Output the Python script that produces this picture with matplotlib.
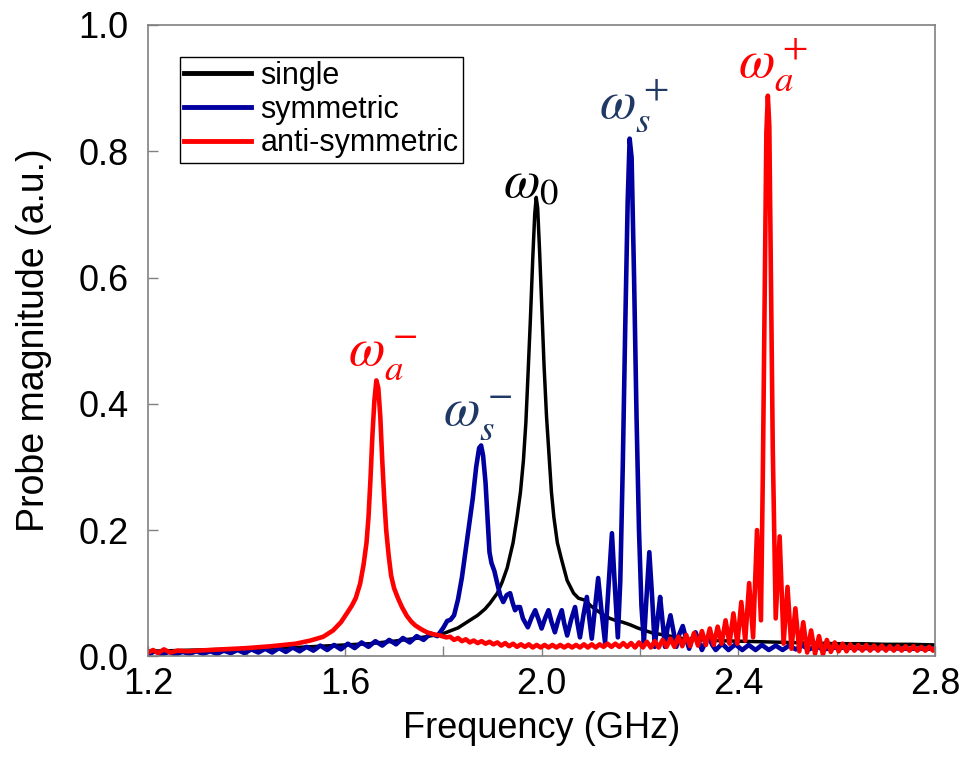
import matplotlib.pyplot as plt
from matplotlib.ticker import MultipleLocator

plt.rcParams['font.family'] = ['Liberation Sans', 'DejaVu Sans']
plt.rcParams['mathtext.fontset'] = 'stix'

# single resonator
single_freq = [1.20, 1.25, 1.30, 1.35, 1.40, 1.45, 1.50, 1.55, 1.60, 1.65, 1.70, 1.75,
               1.80, 1.83, 1.85, 1.87, 1.885, 1.895, 1.91, 1.92, 1.93, 1.942, 1.95,
               1.957, 1.963, 1.968, 1.972, 1.977, 1.982, 1.986, 1.989, 1.992, 1.996,
               2.000, 2.005, 2.010, 2.015, 2.020, 2.025, 2.032, 2.040, 2.052, 2.065,
               2.075, 2.088, 2.100, 2.112, 2.125, 2.139, 2.150, 2.165, 2.180, 2.195,
               2.210, 2.225, 2.240, 2.255, 2.280, 2.300, 2.350, 2.400, 2.450, 2.500,
               2.550, 2.600, 2.650, 2.700, 2.750, 2.800]
single_mag = [0.008, 0.009, 0.010, 0.011, 0.012, 0.013, 0.014, 0.016, 0.018, 0.020, 0.024, 0.029,
              0.036, 0.045, 0.055, 0.065, 0.075, 0.084, 0.100, 0.118, 0.140, 0.180, 0.220,
              0.260, 0.310, 0.370, 0.440, 0.530, 0.630, 0.700, 0.727, 0.710, 0.640,
              0.560, 0.460, 0.380, 0.320, 0.260, 0.220, 0.180, 0.155, 0.120, 0.100,
              0.092, 0.089, 0.080, 0.073, 0.066, 0.060, 0.057, 0.054, 0.050, 0.045,
              0.041, 0.037, 0.035, 0.033, 0.029, 0.027, 0.025, 0.024, 0.023, 0.022,
              0.021, 0.020, 0.020, 0.019, 0.019, 0.018]

# symmetric coupling
sym_freq = [1.200, 1.214, 1.228, 1.242, 1.256, 1.270, 1.284, 1.298, 1.312, 1.326, 1.340,
            1.354, 1.368, 1.382, 1.396, 1.410, 1.424, 1.438, 1.452, 1.466, 1.480, 1.494,
            1.508, 1.522, 1.536, 1.550, 1.564, 1.578, 1.592, 1.606, 1.620, 1.634, 1.648,
            1.662, 1.676, 1.690, 1.704, 1.718, 1.732, 1.746, 1.760, 1.774, 1.788,
            1.800, 1.808, 1.815, 1.822, 1.830, 1.838, 1.845, 1.852, 1.860, 1.867, 1.873,
            1.877, 1.881, 1.886, 1.890, 1.894, 1.898, 1.904, 1.910, 1.916, 1.922, 1.929,
            1.936, 1.941, 1.946, 1.951, 1.956, 1.962, 1.972, 1.980, 1.987, 1.994, 2.000,
            2.007, 2.014, 2.020, 2.027, 2.034, 2.041, 2.046, 2.052, 2.060, 2.068, 2.073,
            2.078, 2.085, 2.092, 2.097, 2.102, 2.109, 2.115, 2.122, 2.129, 2.136, 2.143,
            2.149, 2.155, 2.160, 2.165, 2.170, 2.175, 2.179, 2.183, 2.188, 2.193, 2.198,
            2.203, 2.208, 2.213, 2.219, 2.225, 2.230, 2.236, 2.241, 2.246, 2.251, 2.256,
            2.262, 2.268, 2.274, 2.280, 2.287, 2.293, 2.300, 2.306, 2.313, 2.319, 2.326,
            2.333, 2.340, 2.347, 2.354, 2.367, 2.380, 2.394, 2.408, 2.421, 2.435, 2.448,
            2.462, 2.476, 2.490, 2.503, 2.517, 2.530, 2.544, 2.558, 2.572, 2.600, 2.650,
            2.700, 2.750, 2.800]
sym_mag = [0.003, 0.008, 0.003, 0.007, 0.003, 0.007, 0.004, 0.008, 0.004, 0.008, 0.004,
           0.009, 0.005, 0.010, 0.005, 0.011, 0.006, 0.012, 0.006, 0.013, 0.007, 0.014,
           0.008, 0.015, 0.009, 0.017, 0.010, 0.018, 0.011, 0.020, 0.013, 0.022, 0.015,
           0.024, 0.017, 0.026, 0.019, 0.029, 0.022, 0.032, 0.026, 0.036, 0.032,
           0.045, 0.056, 0.058, 0.065, 0.090, 0.125, 0.165, 0.205, 0.250, 0.300, 0.330,
           0.334, 0.318, 0.275, 0.220, 0.165, 0.148, 0.135, 0.115, 0.096, 0.086, 0.097,
           0.100, 0.085, 0.073, 0.078, 0.078, 0.060, 0.046, 0.062, 0.073, 0.058, 0.044,
           0.060, 0.073, 0.055, 0.038, 0.058, 0.073, 0.052, 0.033, 0.058, 0.078, 0.052,
           0.030, 0.065, 0.094, 0.060, 0.028, 0.080, 0.124, 0.070, 0.022, 0.110, 0.195,
           0.110, 0.030, 0.120, 0.300, 0.520, 0.720, 0.820, 0.790, 0.600, 0.380, 0.200,
           0.080, 0.022, 0.090, 0.165, 0.090, 0.015, 0.060, 0.094, 0.055, 0.015, 0.045,
           0.065, 0.040, 0.015, 0.035, 0.048, 0.030, 0.012, 0.028, 0.038, 0.025, 0.010,
           0.022, 0.030, 0.018, 0.010, 0.020, 0.010, 0.019, 0.010, 0.018, 0.010, 0.018,
           0.010, 0.017, 0.010, 0.017, 0.011, 0.017, 0.011, 0.016, 0.011, 0.014, 0.013,
           0.013, 0.012, 0.012]

# anti-symmetric coupling
anti_freq = [1.200, 1.210, 1.220, 1.232, 1.245, 1.260, 1.280, 1.300, 1.350, 1.400, 1.450,
             1.500, 1.530, 1.556, 1.576, 1.592, 1.604, 1.614, 1.622, 1.631, 1.638, 1.644,
             1.648, 1.652, 1.656, 1.660, 1.664, 1.668, 1.672, 1.676, 1.680, 1.684, 1.689,
             1.694, 1.700, 1.708, 1.716, 1.726, 1.735, 1.743, 1.755, 1.767, 1.780, 1.793,
             1.806, 1.814, 1.822, 1.830, 1.838, 1.846, 1.854, 1.862, 1.870, 1.878, 1.886,
             1.894, 1.902, 1.910, 1.918, 1.926, 1.934, 1.942, 1.950, 1.958, 1.966, 1.974,
             1.982, 1.990, 1.998, 2.006, 2.014, 2.022, 2.030, 2.038, 2.046, 2.054, 2.062,
             2.070, 2.078, 2.086, 2.094, 2.102, 2.110, 2.118, 2.126, 2.134, 2.142, 2.150,
             2.158, 2.166, 2.174, 2.182, 2.190, 2.198, 2.206, 2.214, 2.222, 2.230, 2.238,
             2.246, 2.254, 2.262, 2.270, 2.278, 2.286, 2.294, 2.302, 2.310, 2.318, 2.326,
             2.334, 2.342, 2.350, 2.358, 2.366, 2.374, 2.382, 2.390, 2.398, 2.406, 2.414,
             2.422, 2.430, 2.438, 2.446, 2.450, 2.454, 2.457, 2.460, 2.463, 2.466, 2.470,
             2.476, 2.484, 2.492, 2.500, 2.508, 2.516, 2.524, 2.532, 2.540, 2.548, 2.556,
             2.564, 2.572, 2.580, 2.588, 2.596, 2.604, 2.612, 2.620, 2.628, 2.636, 2.644,
             2.652, 2.660, 2.668, 2.676, 2.684, 2.692, 2.700, 2.708, 2.716, 2.724, 2.732,
             2.740, 2.748, 2.756, 2.764, 2.772, 2.780, 2.788, 2.796, 2.800]
anti_mag = [0.006, 0.010, 0.005, 0.011, 0.006, 0.009, 0.008, 0.009, 0.011, 0.013, 0.016,
            0.020, 0.025, 0.031, 0.041, 0.054, 0.068, 0.080, 0.092, 0.115, 0.145, 0.180,
            0.220, 0.280, 0.350, 0.405, 0.437, 0.425, 0.380, 0.310, 0.250, 0.200, 0.160,
            0.128, 0.108, 0.092, 0.078, 0.064, 0.055, 0.049, 0.043, 0.038, 0.035, 0.033,
            0.030, 0.031, 0.026, 0.029, 0.024, 0.027, 0.022, 0.025, 0.021, 0.024, 0.020,
            0.023, 0.019, 0.022, 0.017, 0.021, 0.016, 0.020, 0.015, 0.019, 0.015, 0.019,
            0.014, 0.018, 0.014, 0.018, 0.014, 0.018, 0.014, 0.018, 0.014, 0.018, 0.014,
            0.018, 0.014, 0.019, 0.014, 0.019, 0.014, 0.019, 0.015, 0.020, 0.015, 0.020,
            0.015, 0.021, 0.015, 0.021, 0.014, 0.022, 0.014, 0.023, 0.014, 0.024, 0.014,
            0.026, 0.015, 0.028, 0.015, 0.031, 0.016, 0.034, 0.016, 0.037, 0.017, 0.040,
            0.018, 0.044, 0.018, 0.047, 0.020, 0.057, 0.020, 0.068, 0.020, 0.086, 0.025,
            0.116, 0.030, 0.200, 0.057, 0.300, 0.600, 0.830, 0.888, 0.840, 0.620, 0.330,
            0.060, 0.190, 0.020, 0.110, 0.012, 0.076, 0.008, 0.054, 0.006, 0.041, 0.004,
            0.032, 0.003, 0.026, 0.007, 0.022, 0.008, 0.020, 0.008, 0.019, 0.009, 0.018,
            0.009, 0.018, 0.009, 0.017, 0.009, 0.017, 0.009, 0.016, 0.009, 0.016, 0.009,
            0.016, 0.009, 0.016, 0.009, 0.015, 0.009, 0.015, 0.009, 0.012]

# mode labels: (text, freq, magnitude, colour)
mode_labels = [r'$\omega_0$', r'$\omega_s^+$', r'$\omega_s^-$', r'$\omega_a^+$', r'$\omega_a^-$']
mode_x = [1.922, 2.116, 1.800, 2.400, 1.607]
mode_y = [0.727, 0.853, 0.366, 0.918, 0.461]
mode_colors = ['black', '#1F3864', '#1F3864', '#FF0000', '#FF0000']

fig = plt.figure(figsize=(9.62, 7.57), dpi=100)
ax = fig.add_axes([0.154, 0.133, 0.818, 0.834])

ax.plot(single_freq, single_mag, color='black', lw=2.5, label='single')
ax.plot(sym_freq, sym_mag, color='#0000A0', lw=3.3, label='symmetric')
ax.plot(anti_freq, anti_mag, color='#FF0000', lw=3.3, label='anti-symmetric')

for txt, x, y, c in zip(mode_labels, mode_x, mode_y, mode_colors):
    ax.text(x, y, txt, color=c, fontsize=38, ha='left', va='baseline')

ax.set_xlim(1.2, 2.8)
ax.set_ylim(0, 1.0)
ax.xaxis.set_major_locator(MultipleLocator(0.4))
ax.xaxis.set_minor_locator(MultipleLocator(0.2))
ax.yaxis.set_major_locator(MultipleLocator(0.2))
ax.xaxis.set_major_formatter(plt.FormatStrFormatter('%.1f'))
ax.yaxis.set_major_formatter(plt.FormatStrFormatter('%.1f'))
ax.tick_params(which='both', direction='in', length=7, width=1, color='#808080',
               labelsize=26, labelcolor='black')
ax.tick_params(axis='y', pad=14)
ax.tick_params(axis='x', pad=8)
for s in ax.spines.values():
    s.set_color('#808080')
    s.set_linewidth(1.2)

ax.set_xlabel('Frequency (GHz)', fontsize=26, labelpad=6)
ax.set_ylabel('Probe magnitude (a.u.)', fontsize=27, labelpad=19)

leg = ax.legend(loc='upper left', bbox_to_anchor=(0.04, 0.95), fontsize=22,
                frameon=True, fancybox=False, edgecolor='black', framealpha=1,
                handlelength=2.2, handletextpad=0.3, labelspacing=0.12,
                borderpad=0.15, borderaxespad=0)
leg.get_frame().set_linewidth(1.0)
for h in leg.get_lines():
    h.set_linewidth(3.5)

fig.savefig('out.png', dpi=100)
